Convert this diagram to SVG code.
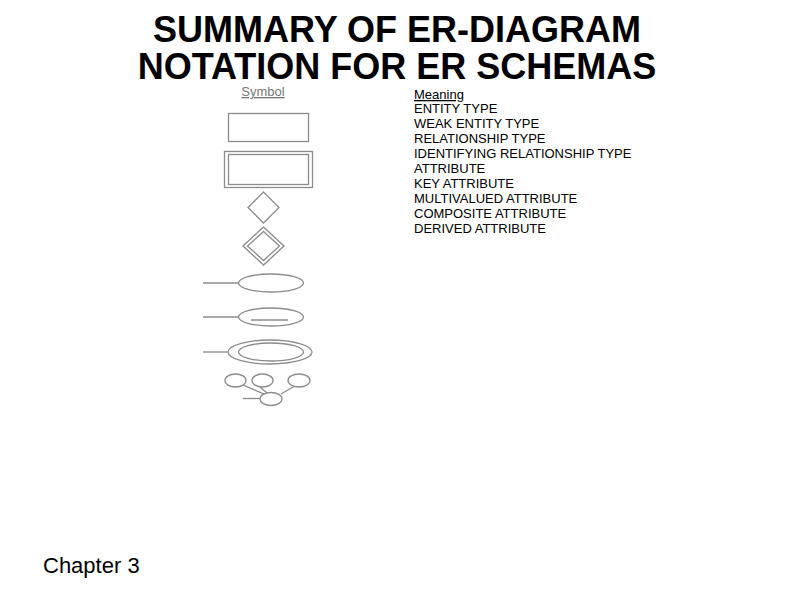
<svg xmlns="http://www.w3.org/2000/svg" width="800" height="600" viewBox="0 0 800 600">
<style>
.title{font-family:"Liberation Sans",Arial,sans-serif;font-weight:bold;font-size:36px;fill:#000;text-anchor:middle}
.hdr{font-family:"Liberation Sans",Arial,sans-serif;font-size:13px;text-decoration:underline}
.mean{font-family:"Liberation Sans",Arial,sans-serif;font-size:13px;fill:#000}
.sym{fill:none;stroke:#8c8c8c;stroke-width:1.3}
.foot{font-family:"Liberation Sans",Arial,sans-serif;font-size:22px;fill:#000}
</style>
<rect width="800" height="600" fill="#fff"/>
<g id="title">
<text class="title" x="397" y="42">SUMMARY OF ER-DIAGRAM</text>
<text class="title" x="397" y="79">NOTATION FOR ER SCHEMAS</text>
</g>
<g id="headers">
<text class="hdr" x="263" y="96" text-anchor="middle" fill="#777">Symbol</text>
<text class="hdr" x="414" y="99" fill="#000">Meaning</text>
</g>
<g id="meanings">
<text class="mean" x="414" y="113">ENTITY TYPE</text>
<text class="mean" x="414" y="128">WEAK ENTITY TYPE</text>
<text class="mean" x="414" y="143">RELATIONSHIP TYPE</text>
<text class="mean" x="414" y="158">IDENTIFYING RELATIONSHIP TYPE</text>
<text class="mean" x="414" y="173">ATTRIBUTE</text>
<text class="mean" x="414" y="188">KEY ATTRIBUTE</text>
<text class="mean" x="414" y="203">MULTIVALUED ATTRIBUTE</text>
<text class="mean" x="414" y="218">COMPOSITE ATTRIBUTE</text>
<text class="mean" x="414" y="233">DERIVED ATTRIBUTE</text>
</g>
<g id="entity">
<rect class="sym" x="228.5" y="113.5" width="80" height="28"/>
</g>
<g id="weak-entity">
<rect class="sym" x="224.5" y="151.5" width="88" height="36"/>
<rect class="sym" x="228.5" y="154.5" width="80" height="30"/>
</g>
<g id="relationship">
<polygon class="sym" points="263.5,192 279,207.5 263.5,223 248,207.5"/>
</g>
<g id="identifying-relationship">
<polygon class="sym" points="263.5,227 284,246 263.5,265 243,246"/>
<polygon class="sym" points="263.5,231.5 279.5,246 263.5,260.5 247.5,246"/>
</g>
<g id="attribute">
<ellipse class="sym" cx="271" cy="283" rx="32.5" ry="9"/>
</g>
<g id="key-attribute">
<ellipse class="sym" cx="271" cy="317" rx="32.5" ry="9"/>
<line class="sym" x1="251" y1="320" x2="288" y2="320"/>
</g>
<g id="multivalued-attribute">
<ellipse class="sym" cx="270" cy="352" rx="42" ry="12"/>
<ellipse class="sym" cx="271" cy="352" rx="32.5" ry="9"/>
</g>
<g id="composite-attribute">
<ellipse class="sym" cx="235.5" cy="380.5" rx="10.5" ry="6.5"/>
<ellipse class="sym" cx="262.5" cy="380.5" rx="10.5" ry="6.5"/>
<ellipse class="sym" cx="299" cy="380.5" rx="11" ry="6.5"/>
<ellipse class="sym" cx="271" cy="399" rx="11" ry="6.5"/>
</g>
<g id="connectors">
<line class="sym" x1="203" y1="283" x2="238.5" y2="283"/>
<line class="sym" x1="203" y1="317" x2="238.5" y2="317"/>
<line class="sym" x1="203" y1="352" x2="228" y2="352"/>
<line class="sym" x1="243" y1="385" x2="264" y2="394"/>
<line class="sym" x1="260" y1="387" x2="267" y2="393"/>
<line class="sym" x1="294" y1="386.5" x2="281" y2="394"/>
<line class="sym" x1="243" y1="398.5" x2="260" y2="398.5"/>
</g>
<g id="footer">
<text class="foot" x="43" y="573">Chapter 3</text>
</g>
</svg>
